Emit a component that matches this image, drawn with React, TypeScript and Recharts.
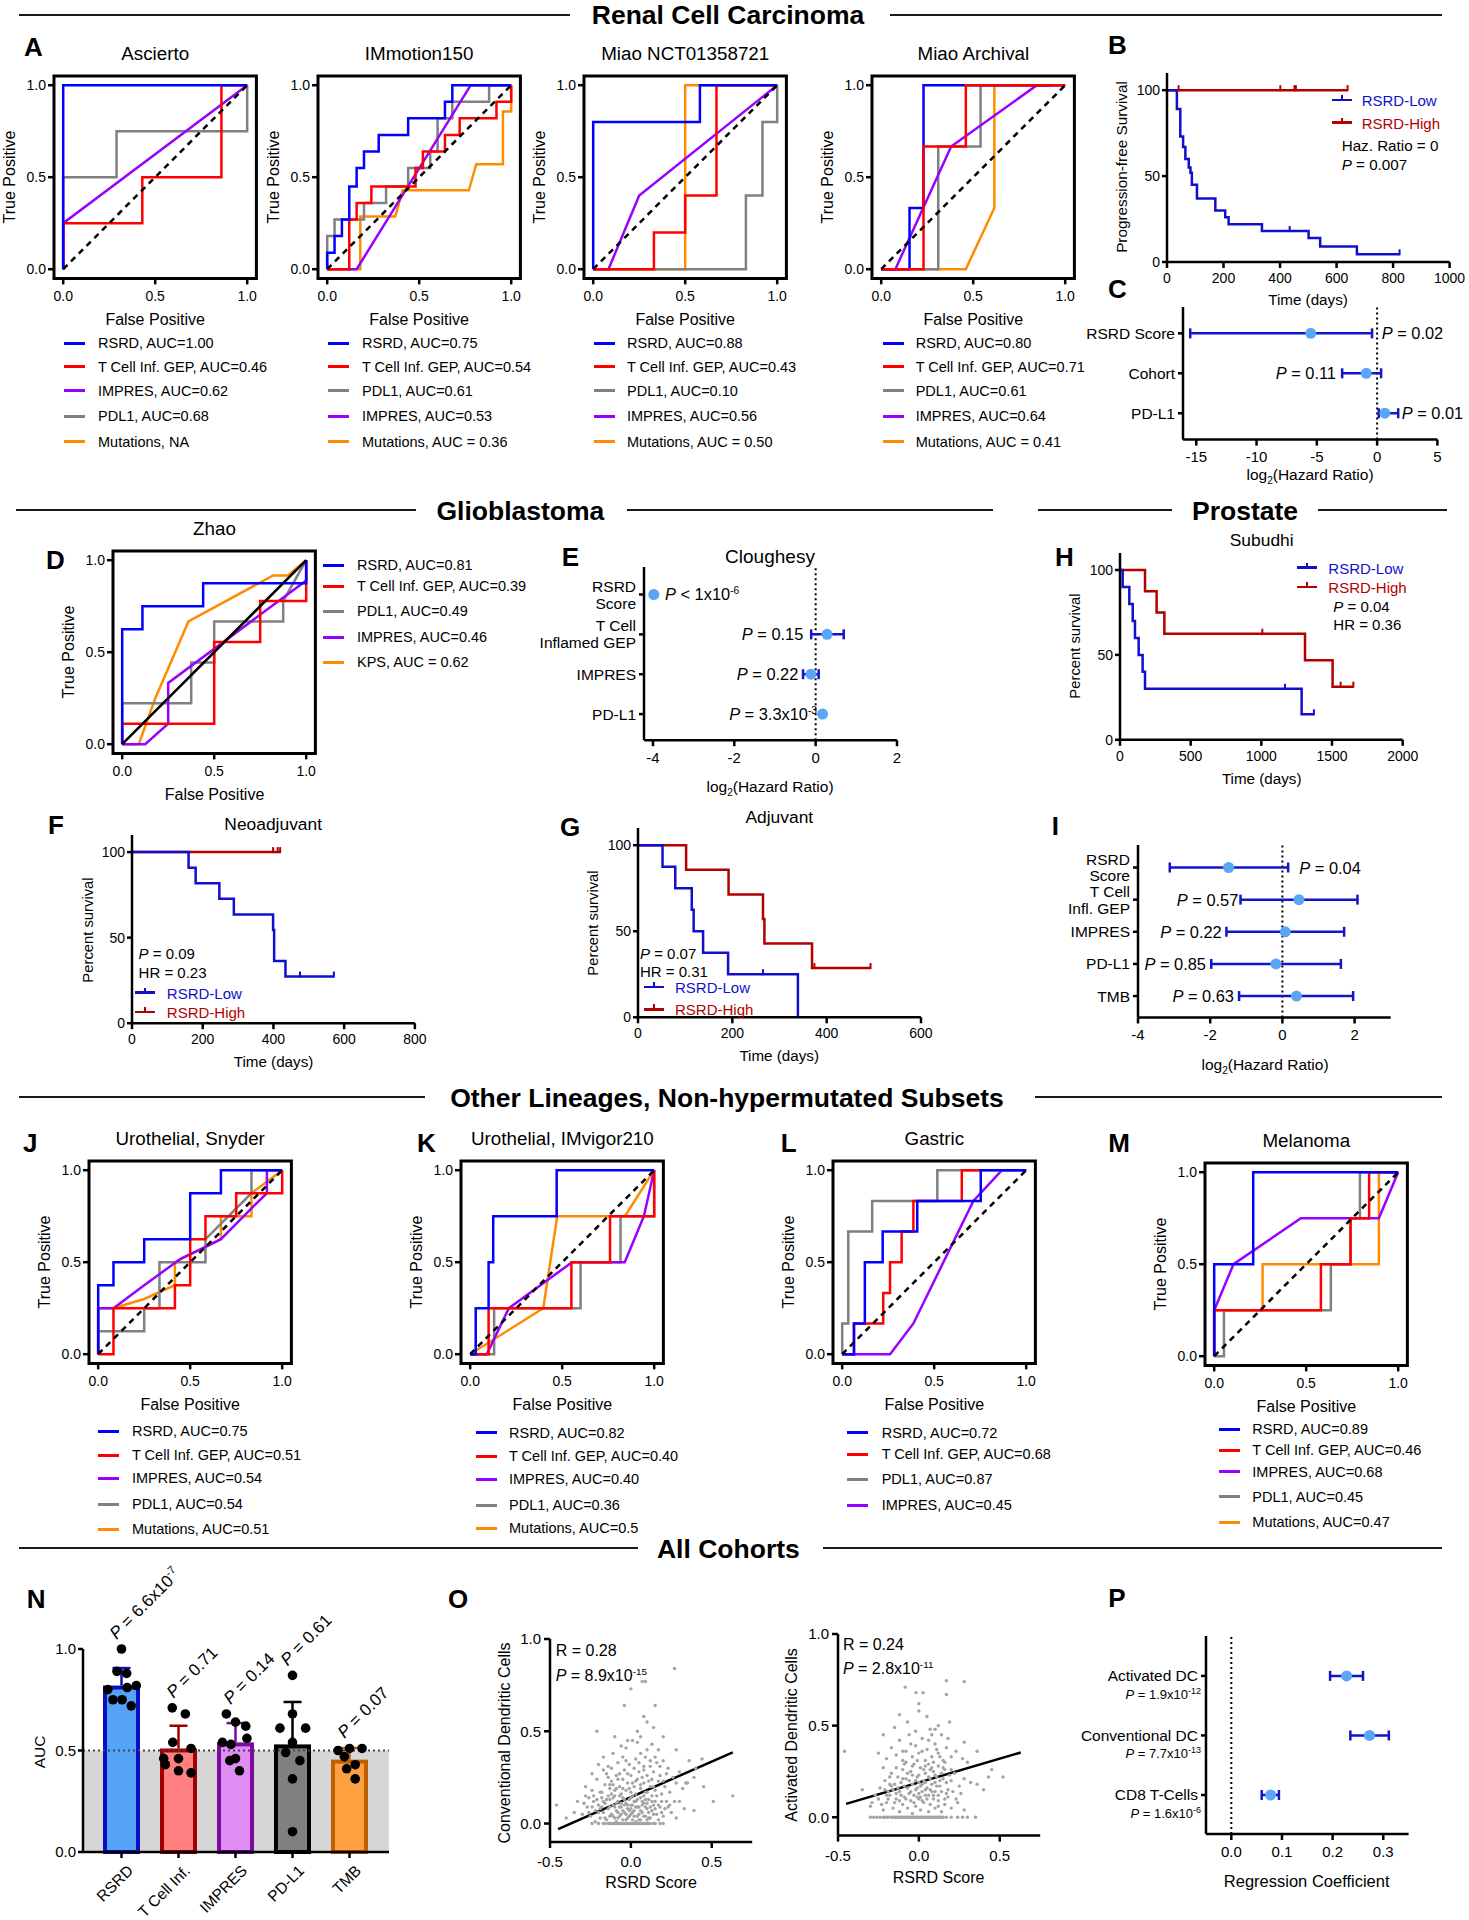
import React from 'react';
import {
  Bar,
  ComposedChart,
  ErrorBar,
  Line,
  ReferenceArea,
  ReferenceLine,
  Scatter,
  XAxis,
  YAxis,
} from 'recharts';

const FONT = '"Liberation Sans", Arial, Helvetica, sans-serif';

const C_RSRD = '#0000ff';
const C_TCELL = '#ff0000';
const C_IMPRES = '#9900ff';
const C_PDL1 = '#808080';
const C_MUT = '#ff8c00';
const C_LOW = '#1010cc';
const C_HIGH = '#b00000';
const C_CI = '#1414c8';
const C_MEAN = '#5aa5f5';

// ---------- ROC curves: [false positive, true positive] ----------
const DIAG = [[0, 0], [1, 1]];

const ASC_RSRD = [[0, 0], [0, 1], [1, 1]];
const ASC_TCELL = [[0, 0], [0, 0.25], [0.43, 0.25], [0.43, 0.5], [0.86, 0.5], [0.86, 1], [1, 1]];
const ASC_IMPRES = [[0, 0], [0, 0.25], [1, 1]];
const ASC_PDL1 = [[0, 0], [0, 0.5], [0.29, 0.5], [0.29, 0.75], [1, 0.75], [1, 1]];

const IMM_RSRD = [[0, 0], [0, 0.09], [0.04, 0.09], [0.04, 0.18], [0.08, 0.18], [0.08, 0.27], [0.12, 0.27], [0.12, 0.45], [0.16, 0.45], [0.16, 0.55], [0.2, 0.55], [0.2, 0.64], [0.28, 0.64], [0.28, 0.73], [0.44, 0.73], [0.44, 0.82], [0.64, 0.82], [0.64, 0.91], [0.68, 0.91], [0.68, 1], [1, 1]];
const IMM_TCELL = [[0, 0], [0.12, 0], [0.12, 0.27], [0.16, 0.27], [0.16, 0.36], [0.24, 0.36], [0.24, 0.45], [0.48, 0.45], [0.48, 0.55], [0.52, 0.55], [0.52, 0.64], [0.64, 0.64], [0.64, 0.73], [0.72, 0.73], [0.72, 0.82], [0.92, 0.82], [0.92, 0.91], [1, 0.91], [1, 1]];
const IMM_PDL1 = [[0, 0], [0, 0.18], [0.04, 0.18], [0.04, 0.27], [0.2, 0.27], [0.2, 0.36], [0.32, 0.36], [0.32, 0.45], [0.44, 0.45], [0.44, 0.55], [0.56, 0.55], [0.56, 0.64], [0.6, 0.64], [0.6, 0.82], [0.68, 0.82], [0.68, 0.91], [0.88, 0.91], [0.88, 1], [1, 1]];
const IMM_IMPRES = [[0, 0], [0.16, 0], [0.78, 1], [1, 1]];
const IMM_MUT = [[0, 0], [0.18, 0], [0.18, 0.286], [0.37, 0.286], [0.41, 0.429], [0.77, 0.429], [0.81, 0.571], [0.955, 0.571], [0.955, 0.857], [1, 0.857], [1, 1]];

const NCT_RSRD = [[0, 0], [0, 0.8], [0.58, 0.8], [0.58, 1], [1, 1]];
const NCT_TCELL = [[0, 0], [0.33, 0], [0.33, 0.2], [0.5, 0.2], [0.5, 0.4], [0.67, 0.4], [0.67, 1], [1, 1]];
const NCT_PDL1 = [[0, 0], [0.83, 0], [0.83, 0.4], [0.92, 0.4], [0.92, 0.8], [1, 0.8], [1, 1]];
const NCT_IMPRES = [[0, 0], [0.083, 0], [0.25, 0.4], [1, 1]];
const NCT_MUT = [[0, 0], [0.5, 0], [0.5, 1], [1, 1]];

const ARC_RSRD = [[0, 0], [0.154, 0], [0.154, 0.333], [0.23, 0.333], [0.23, 1], [0.93, 1]];
const ARC_TCELL = [[0, 0], [0.23, 0], [0.23, 0.667], [0.46, 0.667], [0.46, 1], [1, 1]];
const ARC_PDL1 = [[0, 0], [0.31, 0], [0.31, 0.667], [0.54, 0.667], [0.54, 1], [1, 1]];
const ARC_IMPRES = [[0, 0], [0.077, 0], [0.38, 0.667], [0.846, 1], [1, 1]];
const ARC_MUT = [[0, 0], [0.46, 0], [0.615, 0.333], [0.615, 1], [1, 1]];

const ZH_RSRD = [[0, 0], [0, 0.625], [0.11, 0.625], [0.11, 0.75], [0.44, 0.75], [0.44, 0.875], [1, 0.875], [1, 1]];
const ZH_TCELL = [[0, 0], [0, 0.111], [0.5, 0.111], [0.5, 0.556], [0.75, 0.556], [0.75, 0.778], [1, 0.778], [1, 1]];
const ZH_PDL1 = [[0, 0], [0, 0.222], [0.375, 0.222], [0.375, 0.444], [0.5, 0.444], [0.5, 0.667], [0.875, 0.667], [0.875, 0.778], [1, 1]];
const ZH_IMPRES = [[0, 0], [0.125, 0], [0.25, 0.111], [0.25, 0.333], [1, 0.889], [1, 1]];
const ZH_KPS = [[0, 0], [0.09, 0], [0.18, 0.25], [0.36, 0.667], [0.82, 0.917], [0.9, 0.917], [1, 1]];

const SNY_RSRD = [[0, 0], [0, 0.375], [0.083, 0.375], [0.083, 0.5], [0.25, 0.5], [0.25, 0.625], [0.5, 0.625], [0.5, 0.875], [0.667, 0.875], [0.667, 1], [1, 1]];
const SNY_TCELL = [[0, 0], [0.083, 0], [0.083, 0.25], [0.417, 0.25], [0.417, 0.375], [0.5, 0.375], [0.5, 0.625], [0.583, 0.625], [0.583, 0.75], [0.75, 0.75], [0.75, 0.875], [1, 0.875], [1, 1]];
const SNY_IMPRES = [[0, 0], [0, 0.25], [0.083, 0.25], [0.25, 0.375], [0.45, 0.52], [0.583, 0.583], [0.667, 0.625], [0.83, 0.79], [0.917, 0.875], [0.917, 1], [1, 1]];
const SNY_PDL1 = [[0, 0], [0, 0.125], [0.25, 0.125], [0.25, 0.25], [0.333, 0.25], [0.333, 0.5], [0.583, 0.5], [0.583, 0.625], [0.833, 0.875], [0.833, 1], [1, 1]];
const SNY_MUT = [[0, 0], [0, 0.25], [0.083, 0.25], [0.25, 0.3], [0.417, 0.375], [0.417, 0.5], [0.583, 0.583], [0.667, 0.625], [0.667, 0.75], [0.833, 0.75], [0.833, 0.875], [1, 1]];

const IMV_RSRD = [[0, 0], [0.03, 0], [0.03, 0.25], [0.1, 0.25], [0.1, 0.5], [0.125, 0.5], [0.125, 0.75], [0.47, 0.75], [0.47, 1], [1, 1]];
const IMV_TCELL = [[0, 0], [0.1, 0], [0.1, 0.25], [0.55, 0.25], [0.55, 0.5], [0.76, 0.5], [0.76, 0.75], [1, 0.75], [1, 1]];
const IMV_IMPRES = [[0, 0], [0.09, 0], [0.21, 0.25], [0.554, 0.5], [0.84, 0.5], [0.944, 0.75], [1, 1]];
const IMV_PDL1 = [[0, 0], [0.13, 0], [0.13, 0.25], [0.6, 0.25], [0.6, 0.5], [0.817, 0.5], [0.817, 0.75], [1, 0.75], [1, 1]];
const IMV_MUT = [[0, 0], [0.397, 0.25], [0.473, 0.75], [0.841, 0.75], [1, 1]];

const GAS_RSRD = [[0, 0], [0.064, 0], [0.064, 0.167], [0.123, 0.167], [0.123, 0.5], [0.22, 0.5], [0.22, 0.667], [0.408, 0.667], [0.408, 0.833], [0.753, 0.833], [0.753, 1], [1, 1]];
const GAS_TCELL = [[0, 0], [0.064, 0], [0.064, 0.167], [0.223, 0.167], [0.223, 0.333], [0.26, 0.333], [0.26, 0.5], [0.323, 0.5], [0.323, 0.667], [0.387, 0.667], [0.387, 0.833], [0.65, 0.833], [0.65, 1], [0.75, 1]];
const GAS_PDL1 = [[0, 0], [0, 0.167], [0.033, 0.167], [0.033, 0.667], [0.163, 0.667], [0.163, 0.833], [0.517, 0.833], [0.517, 1], [1, 1]];
const GAS_IMPRES = [[0, 0], [0.26, 0], [0.387, 0.167], [0.713, 0.833], [0.868, 1], [1, 1]];

const MEL_RSRD = [[0, 0], [0, 0.5], [0.212, 0.5], [0.212, 1], [1, 1]];
const MEL_TCELL = [[0, 0], [0, 0.25], [0.58, 0.25], [0.58, 0.5], [0.741, 0.5], [0.741, 0.75], [0.842, 0.75], [0.842, 1], [1, 1]];
const MEL_IMPRES = [[0, 0], [0, 0.25], [0.105, 0.5], [0.471, 0.75], [0.895, 0.75], [1, 1]];
const MEL_PDL1 = [[0, 0], [0.053, 0], [0.053, 0.25], [0.634, 0.25], [0.634, 0.5], [0.741, 0.5], [0.741, 0.75], [0.792, 0.75], [0.792, 1], [1, 1]];
const MEL_MUT = [[0, 0], [0, 0.25], [0.263, 0.25], [0.263, 0.5], [0.895, 0.5], [0.895, 1], [1, 1]];

const ASC_LEG = ['RSRD, AUC=1.00', 'T Cell Inf. GEP, AUC=0.46', 'IMPRES, AUC=0.62', 'PDL1, AUC=0.68', 'Mutations, NA'];
const IMM_LEG = ['RSRD, AUC=0.75', 'T Cell Inf. GEP, AUC=0.54', 'PDL1, AUC=0.61', 'IMPRES, AUC=0.53', 'Mutations, AUC = 0.36'];
const NCT_LEG = ['RSRD, AUC=0.88', 'T Cell Inf. GEP, AUC=0.43', 'PDL1, AUC=0.10', 'IMPRES, AUC=0.56', 'Mutations, AUC = 0.50'];
const ARC_LEG = ['RSRD, AUC=0.80', 'T Cell Inf. GEP, AUC=0.71', 'PDL1, AUC=0.61', 'IMPRES, AUC=0.64', 'Mutations, AUC = 0.41'];
const ZH_LEG = ['RSRD, AUC=0.81', 'T Cell Inf. GEP, AUC=0.39', 'PDL1, AUC=0.49', 'IMPRES, AUC=0.46', 'KPS, AUC = 0.62'];
const SNY_LEG = ['RSRD, AUC=0.75', 'T Cell Inf. GEP, AUC=0.51', 'IMPRES, AUC=0.54', 'PDL1, AUC=0.54', 'Mutations, AUC=0.51'];
const IMV_LEG = ['RSRD, AUC=0.82', 'T Cell Inf. GEP, AUC=0.40', 'IMPRES, AUC=0.40', 'PDL1, AUC=0.36', 'Mutations, AUC=0.5'];
const GAS_LEG = ['RSRD, AUC=0.72', 'T Cell Inf. GEP, AUC=0.68', 'PDL1, AUC=0.87', 'IMPRES, AUC=0.45'];
const MEL_LEG = ['RSRD, AUC=0.89', 'T Cell Inf. GEP, AUC=0.46', 'IMPRES, AUC=0.68', 'PDL1, AUC=0.45', 'Mutations, AUC=0.47'];

// ---------- Kaplan-Meier: [days, percent] ----------
const B_LOW = [[0, 100], [35, 89], [47, 73], [57, 67], [65, 60], [77, 55], [83, 52], [88, 45], [106, 37], [171, 30], [206, 26], [218, 22], [336, 18], [501, 14], [542, 9], [672, 4.5], [823, 4.5]];
const B_LOW_CENS = [[434, 18], [823, 4.5]];
const B_HIGH = [[0, 100], [639, 100]];
const B_HIGH_CENS = [[41, 100], [401, 100], [451, 100], [456, 100], [639, 100]];

const F_LOW = [[0, 100], [160, 90.9], [180, 81.8], [247, 72.7], [288, 63.6], [399, 54.5], [402, 36.4], [434, 27.3], [571, 27.3]];
const F_LOW_CENS = [[475, 27.3], [571, 27.3]];
const F_HIGH = [[0, 100], [419, 100]];
const F_HIGH_CENS = [[399, 100], [412, 100], [419, 100]];

const G_LOW = [[0, 100], [52, 87.5], [79, 75], [114, 62.5], [118, 50], [138, 37.5], [191, 25], [339, 0]];
const G_LOW_CENS = [[265, 25]];
const G_HIGH = [[0, 100], [102, 85.7], [192, 71.4], [265, 57.1], [268, 42.9], [369, 28.6], [493, 28.6]];
const G_HIGH_CENS = [[374, 28.6], [493, 28.6]];

const H_LOW = [[0, 100], [19, 90], [66, 80], [90, 70], [106, 60], [132, 50], [160, 40], [177, 30], [1285, 15], [1372, 15]];
const H_LOW_CENS = [[1167, 30], [1372, 15]];
const H_HIGH = [[0, 100], [177, 87.5], [259, 75], [314, 62.5], [1309, 46.9], [1504, 31.3], [1651, 31.3]];
const H_HIGH_CENS = [[1007, 62.5], [1561, 31.3], [1651, 31.3]];

// ---------- forest plots ----------
const C_ROWS = ['RSRD Score', 'Cohort', 'PD-L1'];
const C_EST = [-5.5, -0.9, 0.64];
const C_LO = [-15.5, -2.9, 0.14];
const C_HI = [-0.42, 0.33, 1.75];

const E_ROWS = ['RSRD\nScore', 'T Cell\nInflamed GEP', 'IMPRES', 'PD-L1'];
const E_EST = [-3.98, 0.28, -0.115, 0.17];
const E_LO = [null, -0.11, -0.31, null];
const E_HI = [null, 0.69, 0.074, null];

const I_ROWS = ['RSRD\nScore', 'T Cell\nInfl. GEP', 'IMPRES', 'PD-L1', 'TMB'];
const I_EST = [-1.49, 0.46, 0.08, -0.18, 0.39];
const I_LO = [-3.12, -1.16, -1.55, -1.97, -1.2];
const I_HI = [0.16, 2.08, 1.71, 1.62, 1.96];

const P_ROWS = ['Activated DC', 'Conventional DC', 'CD8 T-Cells'];
const P_PVAL = [['1.9x10', '-12'], ['7.7x10', '-13'], ['1.6x10', '-6']];
const P_EST = [0.2276, 0.273, 0.0776];
const P_LO = [0.195, 0.235, 0.06];
const P_HI = [0.26, 0.311, 0.094];

// ---------- N: AUC across cohorts ----------
const N_CATS = ['RSRD', 'T Cell Inf.', 'IMPRES', 'PD-L1', 'TMB'];
const N_MEAN = [0.82, 0.51, 0.54, 0.53, 0.455];
const N_SD = [0.086, 0.112, 0.095, 0.209, 0.057];
const N_AUC = [
  [1.0, 0.89, 0.88, 0.82, 0.81, 0.8, 0.75, 0.75, 0.72],
  [0.71, 0.68, 0.54, 0.51, 0.46, 0.46, 0.43, 0.4, 0.39],
  [0.68, 0.64, 0.62, 0.56, 0.54, 0.53, 0.46, 0.45, 0.4],
  [0.87, 0.68, 0.61, 0.61, 0.54, 0.49, 0.45, 0.36, 0.1],
  [0.51, 0.51, 0.5, 0.47, 0.43, 0.41, 0.36],
];
const N_JITTER = [
  [0, -0.08, 0.09, 0.26, 0.1, -0.24, -0.15, 0.01, 0.17],
  [-0.11, 0.12, -0.1, 0.22, -0.26, 0, -0.23, 0, 0.22],
  [-0.16, 0, 0.18, 0.2, -0.23, -0.08, 0, -0.1, 0.07],
  [0, 0, -0.22, 0.23, 0, -0.12, 0.13, 0, 0],
  [0, 0.22, -0.2, -0.09, 0.1, -0.05, 0.1],
];
const N_P = [['6.6x10', '-7'], ['0.71', ''], ['0.14', ''], ['0.61', ''], ['0.07', '']];
const N_FILL = ['#55a3f7', '#ff8080', '#e08cf5', '#808080', '#ffa040'];
const N_STROKE = ['#0a10c0', '#a00000', '#7a0aa0', '#000000', '#c06000'];

// ---------- O: cell fractions vs RSRD score ----------
const O1_XY = '-0.17 0;-0.14 0;-0.12 0;-0.1 0;-0.08 0;-0.07 0;-0.05 0;-0.04 0;-0.02 0;-0.01 0;0 0;0.02 0;0.03 0;0.05 0;0.06 0;0.08 0;0.1 0;0.12 0;0.15 0;' +
  '-0.3 .05;-0.27 .09;-0.25 .04;-0.23 .12;-0.22 .07;-0.2 .1;-0.19 .03;-0.18 .14;-0.17 .06;-0.16 .11;-0.15 .02;-0.14 .08;-0.13 .13;-0.12 .05;-0.11 .1;-0.1 .03;-0.1 .15;-0.09 .07;-0.08 .12;-0.07 .04;-0.06 .09;-0.05 .14;-0.05 .02;-0.04 .06;-0.03 .11;-0.02 .03;-0.02 .08;-0.01 .13;0 .05;0.01 .1;0.01 .02;0.02 .07;0.03 .12;0.04 .04;0.05 .09;0.06 .14;0.06 .02;0.07 .06;0.08 .11;0.09 .04;0.1 .08;0.11 .13;0.12 .03;0.13 .07;0.14 .1;0.16 .05;0.18 .09;0.2 .04;0.22 .12;0.25 .06;' +
  '-0.22 .01;-0.2 .06;-0.18 .09;-0.15 .13;-0.13 .04;-0.12 .16;-0.1 .09;-0.09 .01;-0.08 .06;-0.07 .15;-0.06 .11;-0.04 .1;-0.03 .05;-0.01 .07;0 .1;0.01 .15;0.02 .12;0.03 .01;0.04 .09;0.05 .05;0.07 .1;0.08 .15;0.09 .09;0.1 .02;0.11 .06;0.13 .15;0.15 .12;0.17 .02;0.19 .12;-0.26 .14;0.23 .09;' +
  '-0.28 .2;-0.24 .18;-0.21 .24;-0.19 .17;-0.16 .21;-0.15 .27;-0.13 .19;-0.12 .23;-0.1 .18;-0.09 .26;-0.07 .2;-0.06 .16;-0.05 .24;-0.04 .29;-0.03 .18;-0.02 .22;0 .17;0 .26;0.02 .2;0.03 .16;0.04 .24;0.05 .28;0.06 .19;0.08 .22;0.09 .17;0.1 .26;0.12 .2;0.13 .24;0.15 .18;0.17 .23;0.19 .16;0.21 .2;0.24 .17;0.28 .22;0.32 .19;0.35 .22;-0.11 .21;-0.08 .24;-0.02 .27;0.01 .22;0.07 .25;0.11 .23;0.14 .28;-0.14 .25;-0.17 .29;0.18 .26;0.26 .25;' +
  '-0.2 .32;-0.17 .36;-0.14 .31;-0.11 .38;-0.08 .33;-0.05 .36;-0.03 .41;-0.01 .32;0.01 .45;0.03 .35;0.04 .44;0.06 .38;0.08 .31;0.1 .4;0.12 .34;0.15 .36;0.18 .31;0.2 .34;0.23 .3;0.28 .4;0.36 .34;0.44 .35;0.4 .3;0.3 .28;' +
  '0.27 .84;0.07 .77;0.09 .77;0 .73;-0.04 .64;0.15 .64;0.08 .58;0.1 .55;0.14 .52;-0.21 .5;0.06 .47;-0.02 .45;0.39 .25;0.34 .22;0.51 .12;0.63 .15;0.39 .07;0.28 .03;-0.46 .1;-0.35 .06;-0.24 .27;-0.28 .15;-0.4 .03;0.45 .2;0.3 .12;0.33 .08;-0.33 .12;' +
  '-0.2 0;-0.16 0;-0.13 0;-0.11 0;-0.09 0;-0.06 0;-0.03 0;0.01 0;0.04 0;0.07 0;0.09 0;0.11 0;0.14 0;0.18 0;-0.24 0;0.2 0;' +
  '-0.29 .11;-0.26 .06;-0.24 .09;-0.21 .13;-0.19 .08;-0.17 .12;-0.16 .03;-0.14 .15;-0.13 .09;-0.11 .04;-0.11 .14;-0.09 .11;-0.08 .03;-0.07 .09;-0.06 .05;-0.05 .07;-0.04 .13;-0.03 .02;-0.02 .1;-0.01 .04;0 .08;0 .14;0.01 .06;0.02 .04;0.03 .09;0.04 .13;0.05 .02;0.06 .07;0.07 .12;0.08 .04;0.09 .13;0.1 .11;0.11 .03;0.12 .09;0.13 .12;0.14 .05;0.15 .08;0.17 .1;0.19 .06;0.21 .08;0.24 .1;0.27 .12;' +
  '-0.23 .15;-0.18 .17;-0.13 .21;-0.09 .19;-0.05 .19;-0.01 .19;0.03 .23;0.06 .21;0.1 .17;0.14 .2;0.16 .15;0.2 .23;-0.07 .27;0.08 .29;0.12 .31;-0.03 .34;0.02 .3;0.05 .33;-0.12 .3;0.16 .33;0.22 .27;0.09 .36;-0.06 .42;0.13 .43;0.17 .4;0.2 .47;-0.1 .47;0.04 .5';
const O2_XY = '-0.3 0;-0.26 0;-0.22 0;-0.2 0;-0.17 0;-0.15 0;-0.13 0;-0.11 0;-0.09 0;-0.07 0;-0.05 0;-0.03 0;-0.01 0;0.01 0;0.03 0;0.05 0;0.07 0;0.09 0;0.11 0;0.13 0;0.15 0;0.3 0;0.35 0;' +
  '-0.3 .06;-0.25 .1;-0.22 .04;-0.2 .08;-0.18 .12;-0.16 .05;-0.14 .1;-0.12 .03;-0.1 .07;-0.09 .11;-0.07 .05;-0.05 .09;-0.04 .02;-0.02 .06;0 .1;0.01 .04;0.03 .08;0.04 .12;0.06 .03;0.07 .07;0.09 .1;0.1 .05;0.12 .09;0.14 .03;0.16 .07;0.18 .11;0.2 .05;0.24 .08;0.28 .04;-0.29 .08;-0.35 .15;' +
  '-0.24 .16;-0.21 .2;-0.19 .14;-0.17 .24;-0.15 .18;-0.13 .22;-0.12 .14;-0.1 .26;-0.09 .17;-0.08 .21;-0.06 .13;-0.05 .25;-0.04 .18;-0.03 .29;-0.02 .15;-0.01 .22;0 .19;0.01 .27;0.02 .14;0.03 .2;0.04 .24;0.05 .16;0.06 .29;0.07 .21;0.08 .18;0.09 .25;0.1 .14;0.11 .22;0.12 .28;0.13 .17;0.15 .21;0.16 .26;0.18 .15;0.2 .2;0.22 .24;0.25 .17;0.28 .21;0.32 .19;0.36 .18;0.43 .22;0.4 .15;' +
  '-0.2 .12;-0.16 .15;-0.14 .13;-0.11 .19;-0.07 .16;-0.06 .2;-0.03 .12;-0.01 .16;0.01 .11;0.02 .18;0.04 .15;0.06 .12;0.08 .14;0.1 .19;0.12 .12;0.14 .24;-0.12 .09;-0.04 .23;0.07 .26;-0.09 .29;0 .13;-0.18 .18;0.17 .13;' +
  '-0.2 .32;-0.17 .38;-0.14 .34;-0.12 .42;-0.1 .31;-0.08 .36;-0.06 .45;-0.04 .33;-0.02 .39;0 .35;0.02 .43;0.04 .31;0.05 .37;0.07 .48;0.08 .33;0.1 .4;0.12 .35;0.14 .45;0.15 .31;0.17 .38;0.2 .33;0.23 .36;0.27 .32;-0.25 .35;0.1 .48;0.12 .5;' +
  '0.17 .745;0.28 .74;-0.084 .71;-0.018 .68;0.026 .68;0.17 .67;0 .62;0 .58;-0.12 .56;-0.15 .49;-0.46 .36;0.36 .36;0.28 .41;0.52 .22;0.05 .55;-0.07 .52;0.19 .52;-0.22 .45;0.3 .3;0.45 .26;' +
  '-0.28 0;-0.24 0;-0.21 0;-0.19 0;-0.16 0;-0.14 0;-0.12 0;-0.1 0;-0.08 0;-0.06 0;-0.04 0;-0.02 0;0 0;0.02 0;0.04 0;0.06 0;0.08 0;0.1 0;0.12 0;0.14 0;0.17 0;0.2 0;0.24 0;0.27 0;' +
  '-0.27 .12;-0.23 .07;-0.21 .15;-0.19 .1;-0.17 .17;-0.15 .08;-0.13 .16;-0.11 .12;-0.1 .21;-0.08 .1;-0.07 .24;-0.05 .14;-0.04 .28;-0.03 .08;-0.02 .2;-0.01 .11;0 .23;0.01 .17;0.02 .09;0.03 .26;0.04 .19;0.05 .1;0.06 .22;0.07 .15;0.08 .27;0.09 .12;0.1 .23;0.11 .17;0.12 .06;0.13 .2;0.14 .14;0.15 .27;0.16 .1;0.17 .19;0.19 .23;0.21 .14;0.23 .1;0.26 .13;' +
  '-0.08 .3;-0.01 .31;0.04 .28;0.09 .3;0.13 .33;-0.14 .27;-0.18 .22;-0.22 .27;0.02 .36;-0.05 .4;0.06 .42;0.11 .37;0.18 .43;-0.1 .36;0.16 .3;0.2 .26;-0.02 .47;0.08 .45';
const O1_FIT = { slope: 0.386, intercept: 0.143, from: -0.45, to: 0.63 };
const O2_FIT = { slope: 0.26, intercept: 0.19, from: -0.45, to: 0.63 };

// ---------- helpers ----------
const MT = 12;
const MR = 16;

function boxOf(px: number, py: number, pw: number, ph: number, yw: number, xh: number, mt = MT) {
  return { left: px - yw, top: py - mt, width: yw + pw + MR, height: mt + ph + xh };
}

const toXY = (pts: number[][]) => pts.map(([x, y]) => ({ x, y }));
const toKM = (pts: number[][]) => pts.map(([t, s]) => ({ t, s }));
const parseXY = (s: string) =>
  s.split(';').map((p) => {
    const [x, y] = p.trim().split(' ').map(Number);
    return { x, y };
  });

const axisLine = { stroke: '#000', strokeWidth: 2.5 };
const tickLine = { stroke: '#000', strokeWidth: 2.5 };
const tick14 = { fill: '#000', fontSize: 14, fontFamily: FONT };
const tick15 = { fill: '#000', fontSize: 15, fontFamily: FONT };
const fix1 = (v: number) => Number(v).toFixed(1);

function Txt(props: {
  x: number; y: number; size?: number; anchor?: 'start' | 'middle' | 'end';
  bold?: boolean; color?: string; rotate?: boolean; children: React.ReactNode;
}) {
  const { x, y, size = 15, anchor = 'start', bold = false, color = '#000', rotate = false, children } = props;
  const tx = anchor === 'start' ? '0%' : anchor === 'middle' ? '-50%' : '-100%';
  return (
    <div
      style={{
        position: 'absolute', left: x, top: y, fontSize: size, fontWeight: bold ? 700 : 400, color,
        lineHeight: 1, whiteSpace: 'nowrap',
        transform: `translate(${tx}, -50%)${rotate ? ' rotate(-90deg)' : ''}`,
      }}
    >
      {children}
    </div>
  );
}

const It = ({ children }: { children: React.ReactNode }) => <span style={{ fontStyle: 'italic' }}>{children}</span>;
const Sup = ({ children }: { children: React.ReactNode }) => (
  <span style={{ fontSize: '0.62em', position: 'relative', top: '-0.6em' }}>{children}</span>
);
const Log2 = () => (
  <span>log<span style={{ fontSize: '0.65em', position: 'relative', top: '0.35em' }}>2</span>(Hazard Ratio)</span>
);

function HLine({ x1, x2, y }: { x1: number; x2: number; y: number }) {
  return <div style={{ position: 'absolute', left: x1, top: y - 1, width: x2 - x1, height: 2, background: '#1a1a1a' }} />;
}

function Section({ title, x, y, lines }: { title: string; x: number; y: number; lines: number[][] }) {
  return (
    <>
      {lines.map(([a, b], i) => <HLine key={i} x1={a} x2={b} y={y} />)}
      <Txt x={x} y={y + 0.8} size={26.5} bold anchor="middle">{title}</Txt>
    </>
  );
}

const Letter = ({ x, y, l }: { x: number; y: number; l: string }) => <Txt x={x} y={y} size={26} bold>{l}</Txt>;

// ---------- ROC panel ----------
const ROC_S = 202.4;

function RocPanel(props: {
  fx: number; fy: number; title: string; curves: [string, number[][]][]; solidDiag?: boolean;
  leg: { sx: number; tx: number; rows: number[]; colors: string[]; labels: string[] };
}) {
  const { fx, fy, title, curves, solidDiag, leg } = props;
  const yw = 50;
  const xh = 32;
  const b = boxOf(fx, fy, ROC_S, ROC_S, yw, xh);
  return (
    <>
      <Txt x={fx + ROC_S / 2} y={fy - 22} size={18.8} anchor="middle">{title}</Txt>
      <div style={{ position: 'absolute', left: b.left, top: b.top }}>
        <ComposedChart width={b.width} height={b.height} margin={{ top: MT, right: MR, bottom: 0, left: 0 }}>
          <XAxis type="number" dataKey="x" domain={[-0.05, 1.05]} ticks={[0, 0.5, 1]} interval={0}
            tickFormatter={fix1} axisLine={false} tickLine={tickLine} tickSize={6} tickMargin={6.5}
            height={xh} tick={tick14} />
          <YAxis type="number" dataKey="y" domain={[-0.05, 1.05]} ticks={[0, 0.5, 1]} interval={0}
            tickFormatter={fix1} axisLine={false} tickLine={tickLine} tickSize={6} tickMargin={2}
            width={yw} tick={tick14} />
          <ReferenceArea x1={-0.05} x2={1.05} y1={-0.05} y2={1.05} fill="none" stroke="#000" strokeWidth={3} ifOverflow="visible" />
          {curves.map(([color, pts], i) => (
            <Line key={i} data={toXY(pts)} dataKey="y" type="linear" stroke={color} strokeWidth={2.5}
              dot={false} activeDot={false} isAnimationActive={false} />
          ))}
          <Line data={toXY(DIAG)} dataKey="y" type="linear" stroke="#000" strokeWidth={2.5}
            strokeDasharray={solidDiag ? undefined : '6 5'} dot={false} activeDot={false} isAnimationActive={false} />
        </ComposedChart>
      </div>
      <Txt x={fx + ROC_S / 2} y={fy + ROC_S + 41.7} size={16} anchor="middle">False Positive</Txt>
      <Txt x={fx - 44} y={fy + ROC_S / 2} size={16} anchor="middle" rotate>True Positive</Txt>
      {leg.labels.map((label, i) => (
        <React.Fragment key={i}>
          <div style={{ position: 'absolute', left: leg.sx, top: leg.rows[i] - 1.5, width: 21, height: 3, background: leg.colors[i] }} />
          <Txt x={leg.tx} y={leg.rows[i]} size={14.5}>{label}</Txt>
        </React.Fragment>
      ))}
    </>
  );
}

// ---------- KM panel ----------
const censorShape = (color: string) => (p: any) => (
  <line x1={p.cx} x2={p.cx} y1={p.cy - 5} y2={p.cy + 1} stroke={color} strokeWidth={2} />
);

function KmChart(props: {
  px: number; py: number; pw: number; ph: number; xMax: number; xTicks: number[];
  low: number[][]; lowC: number[][]; high: number[][]; highC: number[][];
}) {
  const { px, py, pw, ph, xMax, xTicks, low, lowC, high, highC } = props;
  const yw = 45;
  const xh = 30;
  const b = boxOf(px, py, pw, ph, yw, xh);
  return (
    <div style={{ position: 'absolute', left: b.left, top: b.top }}>
      <ComposedChart width={b.width} height={b.height} margin={{ top: MT, right: MR, bottom: 0, left: 0 }}>
        <XAxis type="number" dataKey="t" domain={[0, xMax]} ticks={xTicks} interval={0} axisLine={axisLine}
          tickLine={tickLine} tickSize={6} tickMargin={5} height={xh} tick={tick14} />
        <YAxis type="number" dataKey="s" domain={[0, 110]} ticks={[0, 50, 100]} interval={0} axisLine={axisLine}
          tickLine={tickLine} tickSize={5} tickMargin={2} width={yw} tick={tick14} />
        <Line data={toKM(high)} dataKey="s" type="stepAfter" stroke={C_HIGH} strokeWidth={2.5} dot={false} activeDot={false} isAnimationActive={false} />
        <Line data={toKM(low)} dataKey="s" type="stepAfter" stroke={C_LOW} strokeWidth={2.5} dot={false} activeDot={false} isAnimationActive={false} />
        <Scatter data={toKM(highC)} shape={censorShape(C_HIGH)} isAnimationActive={false} />
        <Scatter data={toKM(lowC)} shape={censorShape(C_LOW)} isAnimationActive={false} />
      </ComposedChart>
    </div>
  );
}

function KmKey({ x, tx, y, color, label }: { x: number; tx: number; y: number; color: string; label: string }) {
  return (
    <>
      <div style={{ position: 'absolute', left: x, top: y - 1.25, width: 20, height: 2.5, background: color }} />
      <div style={{ position: 'absolute', left: x + 9, top: y - 5, width: 2, height: 5, background: color }} />
      <Txt x={tx} y={y} size={15} color={color}>{label}</Txt>
    </>
  );
}

// ---------- forest panel ----------
const meanDot = (p: any) => <circle cx={p.cx} cy={p.cy} r={5.5} fill={C_MEAN} />;

function forestRows(est: number[], lo: (number | null)[], hi: (number | null)[]) {
  const n = est.length;
  const all = est.map((v, i) => ({
    v, row: n - i,
    ci: lo[i] == null ? null : [v - (lo[i] as number), (hi[i] as number) - v],
  }));
  return { withCi: all.filter((d) => d.ci), noCi: all.filter((d) => !d.ci) };
}

function multiLineTick(labels: string[], size: number) {
  const n = labels.length;
  return (p: any) => {
    const label = labels[n - Math.round(p.payload.value)] || '';
    const lines = label.split('\n');
    const gap = 17;
    const first = -((lines.length - 1) * gap) / 2 + size * 0.355;
    return (
      <text x={p.x} y={p.y} textAnchor="end" fontSize={size} fontFamily={FONT} fill="#000">
        {lines.map((l, i) => (
          <tspan key={i} x={p.x} dy={i === 0 ? first : gap}>{l}</tspan>
        ))}
      </text>
    );
  };
}

const pTick = (p: any) => {
  const i = 3 - Math.round(p.payload.value);
  const [mant, exp] = P_PVAL[i] || ['', ''];
  return (
    <g>
      <text x={p.x} y={p.y} dy="0.355em" textAnchor="end" fontSize={15.5} fontFamily={FONT} fill="#000">{P_ROWS[i]}</text>
      <text x={p.x + 3} y={p.y + 18} dy="0.355em" textAnchor="end" fontSize={13} fontFamily={FONT} fill="#000">
        <tspan fontStyle="italic">P</tspan> = {mant}<tspan dy={-5} fontSize={9}>{exp}</tspan>
      </text>
    </g>
  );
};

function ForestChart(props: {
  px: number; py: number; pw: number; ph: number; yw: number; xDomain: number[]; xTicks: number[];
  xFmt?: (v: number) => string; yDomain: number[]; nRows: number; tick: any;
  est: number[]; lo: (number | null)[]; hi: (number | null)[];
}) {
  const { px, py, pw, ph, yw, xDomain, xTicks, xFmt, yDomain, nRows, tick, est, lo, hi } = props;
  const xh = 34;
  const b = boxOf(px, py, pw, ph, yw, xh);
  const { withCi, noCi } = forestRows(est, lo, hi);
  const rows = Array.from({ length: nRows }, (_, i) => i + 1);
  return (
    <div style={{ position: 'absolute', left: b.left, top: b.top }}>
      <ComposedChart width={b.width} height={b.height} margin={{ top: MT, right: MR, bottom: 0, left: 0 }}>
        <XAxis type="number" dataKey="v" domain={xDomain} ticks={xTicks} interval={0} tickFormatter={xFmt || ((v: number) => String(v))}
          axisLine={axisLine} tickLine={tickLine} tickSize={6} tickMargin={6} height={xh} tick={tick15} />
        <YAxis type="number" dataKey="row" domain={yDomain} ticks={rows} interval={0} axisLine={axisLine}
          tickLine={tickLine} tickSize={5} tickMargin={3} width={yw} tick={tick} />
        <ReferenceLine x={0} stroke="#000" strokeWidth={2} strokeDasharray="2 3" />
        <Scatter data={withCi} shape={meanDot} isAnimationActive={false}>
          <ErrorBar dataKey="ci" direction="x" stroke={C_CI} strokeWidth={2.5} width={5} />
        </Scatter>
        {noCi.length > 0 && <Scatter data={noCi} shape={meanDot} isAnimationActive={false} />}
      </ComposedChart>
    </div>
  );
}

// ---------- N bar chart ----------
const N_DATA = N_CATS.map((name, i) => ({ name, mean: N_MEAN[i], sd: N_SD[i], idx: i }));
const N_POINTS = N_AUC.flatMap((vals, i) => vals.map((y, j) => ({ x: i + N_JITTER[i][j], y })));
const N_LABELS = N_CATS.map((_, i) => ({ x: i, y: Math.max(...N_AUC[i], N_MEAN[i] + N_SD[i]), p: N_P[i] }));

const nBarShape = (p: any) => {
  const { x, y, width, height, payload } = p;
  const i = payload.idx;
  const perUnit = height / payload.mean;
  const top = y - payload.sd * perUnit;
  const cx = x + width / 2;
  return (
    <g>
      <line x1={cx} x2={cx} y1={y} y2={top} stroke={N_STROKE[i]} strokeWidth={2.5} />
      <line x1={cx - 9} x2={cx + 9} y1={top} y2={top} stroke={N_STROKE[i]} strokeWidth={2.5} />
      <rect x={x + 2} y={y + 2} width={width - 4} height={height - 2} fill={N_FILL[i]} stroke={N_STROKE[i]} strokeWidth={4} />
    </g>
  );
};

const blackDot = (p: any) => <circle cx={p.cx} cy={p.cy} r={4.8} fill="#000" />;

const nLabel = (p: any) => {
  const [mant, exp] = p.payload.p;
  const x = p.cx - 5;
  const y = p.cy - 9;
  return (
    <text x={x} y={y} transform={`rotate(-45 ${x} ${y})`} fontSize={17} fontFamily={FONT} fill="#000">
      <tspan fontStyle="italic">P</tspan> = {mant}
      {exp ? <tspan dy={-7} fontSize={11}>{exp}</tspan> : null}
    </text>
  );
};

const nTick = (p: any) => {
  const x = p.x + 5;
  const y = p.y + 4;
  return (
    <text x={x} y={y} transform={`rotate(-45 ${x} ${y})`} textAnchor="end" dy="0.7em" fontSize={15.5} fontFamily={FONT} fill="#000">
      {p.payload.value}
    </text>
  );
};

function AucBars() {
  const px = 83.3;
  const py = 1649.3;
  const pw = 306;
  const ph = 203;
  const yw = 50;
  const xh = 70;
  const mt = 100;
  const padL = 10;
  const padR = 11;
  const band = (pw - padL - padR) / N_CATS.length;
  const b = boxOf(px, py, pw, ph, yw, xh, mt);
  return (
    <div style={{ position: 'absolute', left: b.left, top: b.top }}>
      <ComposedChart data={N_DATA} width={b.width} height={b.height} margin={{ top: mt, right: MR, bottom: 0, left: 0 }}>
        <XAxis xAxisId="cat" dataKey="name" type="category" padding={{ left: padL, right: padR }} interval={0}
          axisLine={axisLine} tickLine={tickLine} tickSize={6} height={xh} tick={nTick} />
        <XAxis xAxisId="pts" dataKey="x" type="number" hide
          domain={[-0.5 - padL / band, N_CATS.length - 0.5 + padR / band]} />
        <YAxis type="number" domain={[0, 1]} ticks={[0, 0.5, 1]} interval={0} tickFormatter={fix1}
          axisLine={axisLine} tickLine={tickLine} tickSize={5} tickMargin={2} width={yw} tick={tick15} />
        <ReferenceArea xAxisId="pts" y1={0} y2={0.5} fill="#d6d6d6" fillOpacity={1} stroke="none" />
        <ReferenceLine xAxisId="pts" y={0.5} stroke="#444" strokeWidth={2} strokeDasharray="2 3" />
        <Bar xAxisId="cat" dataKey="mean" barSize={37} shape={nBarShape} isAnimationActive={false} />
        <Scatter xAxisId="pts" data={N_POINTS} dataKey="y" shape={blackDot} isAnimationActive={false} />
        <Scatter xAxisId="pts" data={N_LABELS} dataKey="y" shape={nLabel} isAnimationActive={false} />
      </ComposedChart>
    </div>
  );
}

// ---------- O scatter ----------
const grayDot = (p: any) => <circle cx={p.cx} cy={p.cy} r={1.7} fill="#a4a4a4" />;

function CellScatter({ px, py, ph, pts, fit }: { px: number; py: number; ph: number; pts: string; fit: typeof O1_FIT }) {
  const pw = 202.2;
  const yw = 45;
  const xh = 30;
  const b = boxOf(px, py, pw, ph, yw, xh);
  const line = [fit.from, fit.to].map((x) => ({ x, y: fit.intercept + fit.slope * x }));
  return (
    <div style={{ position: 'absolute', left: b.left, top: b.top }}>
      <ComposedChart width={b.width} height={b.height} margin={{ top: MT, right: MR, bottom: 0, left: 0 }}>
        <XAxis type="number" dataKey="x" domain={[-0.5, 0.75]} ticks={[-0.5, 0, 0.5]} interval={0} tickFormatter={fix1}
          axisLine={axisLine} tickLine={tickLine} tickSize={6} tickMargin={8.5} height={xh} tick={tick15} />
        <YAxis type="number" dataKey="y" domain={[-0.1, 1]} ticks={[0, 0.5, 1]} interval={0} tickFormatter={fix1}
          axisLine={axisLine} tickLine={tickLine} tickSize={6} tickMargin={3} width={yw} tick={tick15} />
        <Scatter data={parseXY(pts)} shape={grayDot} isAnimationActive={false} />
        <Line data={line} dataKey="y" type="linear" stroke="#000" strokeWidth={2.5} dot={false} activeDot={false} isAnimationActive={false} />
      </ComposedChart>
    </div>
  );
}

// ---------- layout ----------
const ORDER_A = [C_RSRD, C_TCELL, C_IMPRES, C_PDL1, C_MUT];
const ORDER_B = [C_RSRD, C_TCELL, C_PDL1, C_IMPRES, C_MUT];
const ROWS_A = [343.3, 366.7, 390.7, 416, 441.7];

export default function App() {
  return (
    <div style={{ position: 'absolute', left: 0, top: 0, width: 1469, height: 1920, background: '#fff', fontFamily: FONT, color: '#000', overflow: 'hidden' }}>
      <Section title="Renal Cell Carcinoma" x={728} y={14.5} lines={[[19, 570], [889.6, 1442]]} />
      <Section title="Glioblastoma" x={520.4} y={510} lines={[[16, 416], [627, 993]]} />
      <Section title="Prostate" x={1245} y={510} lines={[[1038, 1172], [1318, 1447]]} />
      <Section title="Other Lineages, Non-hypermutated Subsets" x={727} y={1097.3} lines={[[19, 425], [1035, 1442]]} />
      <Section title="All Cohorts" x={728.4} y={1548.3} lines={[[19, 638], [822.5, 1442]]} />

      {/* A */}
      <Letter x={24} y={46.5} l="A" />
      <RocPanel fx={54} fy={76} title="Ascierto"
        curves={[[C_PDL1, ASC_PDL1], [C_IMPRES, ASC_IMPRES], [C_TCELL, ASC_TCELL], [C_RSRD, ASC_RSRD]]}
        leg={{ sx: 64.4, tx: 98, rows: ROWS_A, colors: ORDER_A, labels: ASC_LEG }} />
      <RocPanel fx={317.9} fy={76} title="IMmotion150"
        curves={[[C_MUT, IMM_MUT], [C_PDL1, IMM_PDL1], [C_IMPRES, IMM_IMPRES], [C_TCELL, IMM_TCELL], [C_RSRD, IMM_RSRD]]}
        leg={{ sx: 328, tx: 362, rows: ROWS_A, colors: ORDER_B, labels: IMM_LEG }} />
      <RocPanel fx={584} fy={76} title="Miao NCT01358721"
        curves={[[C_MUT, NCT_MUT], [C_PDL1, NCT_PDL1], [C_IMPRES, NCT_IMPRES], [C_TCELL, NCT_TCELL], [C_RSRD, NCT_RSRD]]}
        leg={{ sx: 594.3, tx: 627, rows: ROWS_A, colors: ORDER_B, labels: NCT_LEG }} />
      <RocPanel fx={872.2} fy={76} title="Miao Archival"
        curves={[[C_MUT, ARC_MUT], [C_PDL1, ARC_PDL1], [C_IMPRES, ARC_IMPRES], [C_RSRD, ARC_RSRD], [C_TCELL, ARC_TCELL]]}
        leg={{ sx: 882.5, tx: 915.7, rows: ROWS_A, colors: ORDER_B, labels: ARC_LEG }} />

      {/* B */}
      <Letter x={1108} y={45} l="B" />
      <KmChart px={1166.7} py={72.7} pw={282.6} ph={189} xMax={1000} xTicks={[0, 200, 400, 600, 800, 1000]}
        low={B_LOW} lowC={B_LOW_CENS} high={B_HIGH} highC={B_HIGH_CENS} />
      <Txt x={1121.7} y={167} size={15.3} anchor="middle" rotate>Progression-free Survival</Txt>
      <Txt x={1308} y={300} size={15.2} anchor="middle">Time (days)</Txt>
      <KmKey x={1331.7} tx={1361.7} y={100} color={C_LOW} label="RSRD-Low" />
      <KmKey x={1331.7} tx={1361.7} y={122.7} color={C_HIGH} label="RSRD-High" />
      <Txt x={1341.7} y={146} size={15.2}>Haz. Ratio = 0</Txt>
      <Txt x={1341.7} y={165} size={15.2}><It>P</It> = 0.007</Txt>

      {/* C */}
      <Letter x={1108} y={289} l="C" />
      <ForestChart px={1183.3} py={306.7} pw={254.4} ph={132.6} yw={120} xDomain={[-16.1, 5]} xTicks={[-15, -10, -5, 0, 5]}
        yDomain={[0.34, 3.66]} nRows={3} tick={multiLineTick(C_ROWS, 15.5)} est={C_EST} lo={C_LO} hi={C_HI} />
      <Txt x={1381.7} y={333.3} size={16.4}><It>P</It> = 0.02</Txt>
      <Txt x={1336} y={373.3} size={16.4} anchor="end"><It>P</It> = 0.11</Txt>
      <Txt x={1401.7} y={412.7} size={16.4}><It>P</It> = 0.01</Txt>
      <Txt x={1310} y={475} size={15.5} anchor="middle"><Log2 /></Txt>

      {/* D */}
      <Letter x={46} y={560} l="D" />
      <RocPanel fx={113.3} fy={551.2} title="Zhao" solidDiag
        curves={[[C_MUT, ZH_KPS], [C_PDL1, ZH_PDL1], [C_IMPRES, ZH_IMPRES], [C_TCELL, ZH_TCELL], [C_RSRD, ZH_RSRD]]}
        leg={{ sx: 323, tx: 357, rows: [565, 586.4, 611.4, 637, 662], colors: ORDER_B, labels: ZH_LEG }} />

      {/* E */}
      <Letter x={561.7} y={557} l="E" />
      <Txt x={770} y={556} size={19} anchor="middle">Cloughesy</Txt>
      <ForestChart px={644.3} py={566.8} pw={253} ph={173.2} yw={120} xDomain={[-4.22, 2]} xTicks={[-4, -2, 0, 2]}
        yDomain={[0.345, 4.69]} nRows={4} tick={multiLineTick(E_ROWS, 15.5)} est={E_EST} lo={E_LO} hi={E_HI} />
      <Txt x={665} y={594.3} size={16.4}><It>P</It> &lt; 1x10<Sup>-6</Sup></Txt>
      <Txt x={803.3} y={634.3} size={16.4} anchor="end"><It>P</It> = 0.15</Txt>
      <Txt x={798.3} y={673.9} size={16.4} anchor="end"><It>P</It> = 0.22</Txt>
      <Txt x={817} y={713.9} size={16.4} anchor="end"><It>P</It> = 3.3x10<Sup>-3</Sup></Txt>
      <Txt x={770} y={787} size={15.5} anchor="middle"><Log2 /></Txt>

      {/* F */}
      <Letter x={48} y={824.6} l="F" />
      <Txt x={273.2} y={824.6} size={17.4} anchor="middle">Neoadjuvant</Txt>
      <KmChart px={132.1} py={835.4} pw={282.9} ph={188.2} xMax={800} xTicks={[0, 200, 400, 600, 800]}
        low={F_LOW} lowC={F_LOW_CENS} high={F_HIGH} highC={F_HIGH_CENS} />
      <Txt x={87.5} y={930} size={14.8} anchor="middle" rotate>Percent survival</Txt>
      <Txt x={273.5} y={1062.4} size={15.2} anchor="middle">Time (days)</Txt>
      <Txt x={138.6} y={953.2} size={15}><It>P</It> = 0.09</Txt>
      <Txt x={138.6} y={971.8} size={15}>HR = 0.23</Txt>
      <KmKey x={135} tx={166.8} y={992.5} color={C_LOW} label="RSRD-Low" />
      <KmKey x={135} tx={166.8} y={1012} color={C_HIGH} label="RSRD-High" />

      {/* G */}
      <Letter x={560} y={826.5} l="G" />
      <Txt x={779.3} y={817.5} size={17.4} anchor="middle">Adjuvant</Txt>
      <KmChart px={637.7} py={828.2} pw={283} ph={189.3} xMax={600} xTicks={[0, 200, 400, 600]}
        low={G_LOW} lowC={G_LOW_CENS} high={G_HIGH} highC={G_HIGH_CENS} />
      <Txt x={593.3} y={922.9} size={14.8} anchor="middle" rotate>Percent survival</Txt>
      <Txt x={779.2} y={1055.5} size={15.2} anchor="middle">Time (days)</Txt>
      <Txt x={640} y={953.2} size={15}><It>P</It> = 0.07</Txt>
      <Txt x={640} y={971} size={15}>HR = 0.31</Txt>
      <KmKey x={644} tx={675} y={987} color={C_LOW} label="RSRD-Low" />
      <KmKey x={644} tx={675} y={1009.3} color={C_HIGH} label="RSRD-High" />

      {/* H */}
      <Letter x={1055} y={557} l="H" />
      <Txt x={1261.7} y={541.4} size={17.4} anchor="middle">Subudhi</Txt>
      <KmChart px={1120} py={553.2} pw={282.7} ph={186.8} xMax={2000} xTicks={[0, 500, 1000, 1500, 2000]}
        low={H_LOW} lowC={H_LOW_CENS} high={H_HIGH} highC={H_HIGH_CENS} />
      <Txt x={1075} y={646} size={14.8} anchor="middle" rotate>Percent survival</Txt>
      <Txt x={1261.7} y={779.3} size={15.2} anchor="middle">Time (days)</Txt>
      <KmKey x={1296.7} tx={1328.3} y={567.5} color={C_LOW} label="RSRD-Low" />
      <KmKey x={1296.7} tx={1328.3} y={587.1} color={C_HIGH} label="RSRD-High" />
      <Txt x={1333.3} y={605.7} size={15}><It>P</It> = 0.04</Txt>
      <Txt x={1333.3} y={623.6} size={15}>HR = 0.36</Txt>

      {/* I */}
      <Letter x={1051.7} y={826} l="I" />
      <ForestChart px={1138.3} py={845} pw={252.7} ph={172.5} yw={120} xDomain={[-4, 3]} xTicks={[-4, -2, 0, 2]}
        yDomain={[0.333, 5.7]} nRows={5} tick={multiLineTick(I_ROWS, 15.5)} est={I_EST} lo={I_LO} hi={I_HI} />
      <Txt x={1299.3} y={867.5} size={16.4}><It>P</It> = 0.04</Txt>
      <Txt x={1238.3} y={899.6} size={16.4} anchor="end"><It>P</It> = 0.57</Txt>
      <Txt x={1221.7} y={931.8} size={16.4} anchor="end"><It>P</It> = 0.22</Txt>
      <Txt x={1206} y={963.9} size={16.4} anchor="end"><It>P</It> = 0.85</Txt>
      <Txt x={1234} y={996.1} size={16.4} anchor="end"><It>P</It> = 0.63</Txt>
      <Txt x={1265} y={1065} size={15.5} anchor="middle"><Log2 /></Txt>

      {/* J K L M */}
      <Letter x={23} y={1142.5} l="J" />
      <RocPanel fx={89} fy={1160.8} title="Urothelial, Snyder"
        curves={[[C_MUT, SNY_MUT], [C_PDL1, SNY_PDL1], [C_IMPRES, SNY_IMPRES], [C_TCELL, SNY_TCELL], [C_RSRD, SNY_RSRD]]}
        leg={{ sx: 98.2, tx: 132, rows: [1431, 1455, 1478.3, 1504.3, 1529.3], colors: ORDER_A, labels: SNY_LEG }} />
      <Letter x={417} y={1142.5} l="K" />
      <RocPanel fx={461.2} fy={1160.8} title="Urothelial, IMvigor210"
        curves={[[C_MUT, IMV_MUT], [C_PDL1, IMV_PDL1], [C_IMPRES, IMV_IMPRES], [C_TCELL, IMV_TCELL], [C_RSRD, IMV_RSRD]]}
        leg={{ sx: 475.7, tx: 509, rows: [1432.7, 1456, 1479.3, 1505, 1528.3], colors: ORDER_A, labels: IMV_LEG }} />
      <Letter x={780.7} y={1142.5} l="L" />
      <RocPanel fx={833.1} fy={1160.8} title="Gastric"
        curves={[[C_IMPRES, GAS_IMPRES], [C_PDL1, GAS_PDL1], [C_TCELL, GAS_TCELL], [C_RSRD, GAS_RSRD]]}
        leg={{ sx: 847.3, tx: 881.7, rows: [1432.7, 1454.3, 1479.3, 1505], colors: ORDER_B, labels: GAS_LEG }} />
      <Letter x={1108.3} y={1142.5} l="M" />
      <RocPanel fx={1205.1} fy={1163.1} title="Melanoma"
        curves={[[C_MUT, MEL_MUT], [C_PDL1, MEL_PDL1], [C_IMPRES, MEL_IMPRES], [C_TCELL, MEL_TCELL], [C_RSRD, MEL_RSRD]]}
        leg={{ sx: 1219, tx: 1252.3, rows: [1429, 1450, 1471.7, 1496.7, 1522.3], colors: ORDER_A, labels: MEL_LEG }} />

      {/* N */}
      <Letter x={26.7} y={1599} l="N" />
      <AucBars />
      <Txt x={40} y={1751.7} size={15.5} anchor="middle" rotate>AUC</Txt>

      {/* O */}
      <Letter x={448} y={1599} l="O" />
      <CellScatter px={550} py={1639.3} ph={203} pts={O1_XY} fit={O1_FIT} />
      <Txt x={555.7} y={1650.7} size={16}>R = 0.28</Txt>
      <Txt x={555.7} y={1676} size={16}><It>P</It> = 8.9x10<Sup>-15</Sup></Txt>
      <Txt x={504.6} y={1743.3} size={16} anchor="middle" rotate>Conventional Dendritic Cells</Txt>
      <Txt x={651} y={1883.3} size={16} anchor="middle">RSRD Score</Txt>
      <CellScatter px={837.5} py={1634} ph={201.6} pts={O2_XY} fit={O2_FIT} />
      <Txt x={842.9} y={1645} size={16}>R = 0.24</Txt>
      <Txt x={842.9} y={1669.3} size={16}><It>P</It> = 2.8x10<Sup>-11</Sup></Txt>
      <Txt x={792} y={1735} size={16} anchor="middle" rotate>Activated Dendritic Cells</Txt>
      <Txt x={938.6} y={1878.3} size={16} anchor="middle">RSRD Score</Txt>

      {/* P */}
      <Letter x={1108.3} y={1598} l="P" />
      <ForestChart px={1205.7} py={1636} pw={202.6} ph={198} yw={140} xDomain={[-0.05, 0.35]} xTicks={[0, 0.1, 0.2, 0.3]}
        xFmt={fix1} yDomain={[0.345, 3.67]} nRows={3} tick={pTick} est={P_EST} lo={P_LO} hi={P_HI} />
      <Txt x={1306.7} y={1881} size={16.5} anchor="middle">Regression Coefficient</Txt>
    </div>
  );
}
